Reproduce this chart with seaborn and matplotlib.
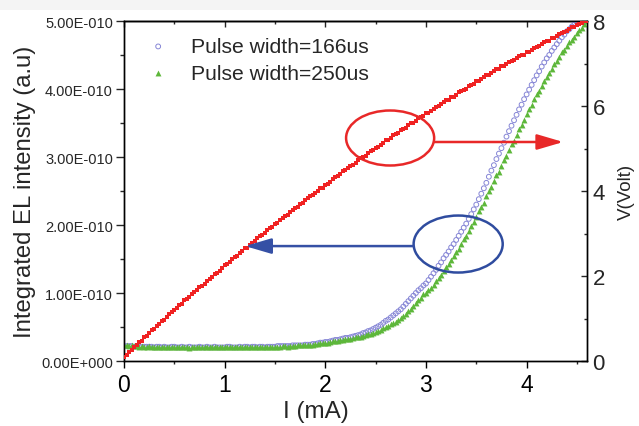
import numpy as np
import pandas as pd
import matplotlib
matplotlib.use("Agg")
import matplotlib.pyplot as plt
import seaborn as sns
from matplotlib.patches import Ellipse, Rectangle
from matplotlib.ticker import MultipleLocator

# ---------------- data ----------------
current_mA = [
    0.000, 0.025, 0.050, 0.075, 0.100, 0.125, 0.150, 0.175, 0.200, 0.225,
    0.250, 0.275, 0.300, 0.325, 0.350, 0.375, 0.400, 0.425, 0.450, 0.475,
    0.500, 0.525, 0.550, 0.575, 0.600, 0.625, 0.650, 0.675, 0.700, 0.725,
    0.750, 0.775, 0.800, 0.825, 0.850, 0.875, 0.900, 0.925, 0.950, 0.975,
    1.000, 1.025, 1.050, 1.075, 1.100, 1.125, 1.150, 1.175, 1.200, 1.225,
    1.250, 1.275, 1.300, 1.325, 1.350, 1.375, 1.400, 1.425, 1.450, 1.475,
    1.500, 1.525, 1.550, 1.575, 1.600, 1.625, 1.650, 1.675, 1.700, 1.725,
    1.750, 1.775, 1.800, 1.825, 1.850, 1.875, 1.900, 1.925, 1.950, 1.975,
    2.000, 2.025, 2.050, 2.075, 2.100, 2.125, 2.150, 2.175, 2.200, 2.225,
    2.250, 2.275, 2.300, 2.325, 2.350, 2.375, 2.400, 2.425, 2.450, 2.475,
    2.500, 2.525, 2.550, 2.575, 2.600, 2.625, 2.650, 2.675, 2.700, 2.725,
    2.750, 2.775, 2.800, 2.825, 2.850, 2.875, 2.900, 2.925, 2.950, 2.975,
    3.000, 3.025, 3.050, 3.075, 3.100, 3.125, 3.150, 3.175, 3.200, 3.225,
    3.250, 3.275, 3.300, 3.325, 3.350, 3.375, 3.400, 3.425, 3.450, 3.475,
    3.500, 3.525, 3.550, 3.575, 3.600, 3.625, 3.650, 3.675, 3.700, 3.725,
    3.750, 3.775, 3.800, 3.825, 3.850, 3.875, 3.900, 3.925, 3.950, 3.975,
    4.000, 4.025, 4.050, 4.075, 4.100, 4.125, 4.150, 4.175, 4.200, 4.225,
    4.250, 4.275, 4.300, 4.325, 4.350, 4.375, 4.400, 4.425, 4.450, 4.475,
    4.500, 4.525, 4.550, 4.575, 4.600]

voltage_V = [
    0.10, 0.14, 0.22, 0.26, 0.33, 0.37, 0.44, 0.48, 0.56, 0.59,
    0.65, 0.72, 0.75, 0.83, 0.86, 0.94, 0.97, 1.03, 1.10, 1.15,
    1.21, 1.24, 1.31, 1.35, 1.43, 1.45, 1.50, 1.58, 1.63, 1.66,
    1.73, 1.77, 1.82, 1.88, 1.94, 1.97, 2.05, 2.07, 2.12, 2.19,
    2.25, 2.28, 2.34, 2.40, 2.45, 2.48, 2.53, 2.59, 2.65, 2.67,
    2.74, 2.77, 2.83, 2.89, 2.94, 2.96, 3.02, 3.08, 3.13, 3.16,
    3.23, 3.25, 3.31, 3.37, 3.42, 3.44, 3.50, 3.56, 3.61, 3.63,
    3.70, 3.72, 3.78, 3.83, 3.88, 3.90, 3.95, 4.01, 4.06, 4.08,
    4.15, 4.17, 4.22, 4.28, 4.33, 4.35, 4.40, 4.46, 4.50, 4.53,
    4.59, 4.61, 4.66, 4.72, 4.77, 4.79, 4.83, 4.89, 4.94, 4.96,
    5.02, 5.04, 5.08, 5.14, 5.19, 5.20, 5.24, 5.31, 5.35, 5.37,
    5.43, 5.45, 5.49, 5.55, 5.59, 5.61, 5.65, 5.71, 5.75, 5.77,
    5.83, 5.84, 5.88, 5.94, 5.98, 6.00, 6.04, 6.09, 6.13, 6.15,
    6.21, 6.22, 6.26, 6.32, 6.36, 6.37, 6.41, 6.46, 6.50, 6.52,
    6.58, 6.59, 6.63, 6.68, 6.72, 6.73, 6.77, 6.82, 6.86, 6.87,
    6.93, 6.94, 6.98, 7.03, 7.07, 7.08, 7.12, 7.17, 7.20, 7.21,
    7.27, 7.28, 7.32, 7.37, 7.40, 7.41, 7.45, 7.50, 7.53, 7.54,
    7.60, 7.61, 7.64, 7.69, 7.72, 7.73, 7.77, 7.82, 7.85, 7.86,
    7.91, 7.92, 7.96, 7.99, 8.00]

# integrated EL intensity, in units of 1E-010 a.u.
el_166us = [
    0.22, 0.22, 0.22, 0.22, 0.21, 0.22, 0.21, 0.21, 0.21, 0.21,
    0.21, 0.21, 0.20, 0.21, 0.21, 0.20, 0.21, 0.20, 0.20, 0.21,
    0.21, 0.20, 0.20, 0.21, 0.20, 0.20, 0.21, 0.20, 0.20, 0.20,
    0.21, 0.20, 0.20, 0.21, 0.20, 0.20, 0.21, 0.20, 0.20, 0.20,
    0.20, 0.21, 0.21, 0.20, 0.20, 0.20, 0.21, 0.20, 0.21, 0.21,
    0.20, 0.21, 0.21, 0.20, 0.21, 0.21, 0.20, 0.21, 0.21, 0.21,
    0.21, 0.22, 0.22, 0.22, 0.22, 0.22, 0.22, 0.23, 0.23, 0.23,
    0.23, 0.23, 0.24, 0.24, 0.24, 0.25, 0.25, 0.26, 0.27, 0.27,
    0.28, 0.28, 0.29, 0.30, 0.31, 0.31, 0.32, 0.33, 0.34, 0.34,
    0.35, 0.36, 0.37, 0.38, 0.39, 0.41, 0.42, 0.44, 0.45, 0.47,
    0.49, 0.51, 0.53, 0.56, 0.59, 0.61, 0.64, 0.67, 0.70, 0.73,
    0.76, 0.80, 0.84, 0.88, 0.92, 0.96, 1.00, 1.04, 1.07, 1.11,
    1.14, 1.19, 1.24, 1.29, 1.34, 1.40, 1.45, 1.51, 1.56, 1.61,
    1.67, 1.72, 1.78, 1.84, 1.90, 1.96, 2.02, 2.09, 2.16, 2.23,
    2.30, 2.38, 2.46, 2.54, 2.62, 2.71, 2.80, 2.88, 2.97, 3.05,
    3.13, 3.21, 3.30, 3.38, 3.46, 3.54, 3.62, 3.70, 3.77, 3.85,
    3.92, 3.99, 4.06, 4.13, 4.20, 4.26, 4.33, 4.39, 4.45, 4.50,
    4.56, 4.61, 4.66, 4.71, 4.76, 4.80, 4.85, 4.88, 4.92, 4.95,
    4.98, 5.00, 5.02, 5.04, 5.06]

el_250us = [
    0.23, 0.23, 0.22, 0.23, 0.22, 0.22, 0.21, 0.22, 0.21, 0.21,
    0.22, 0.21, 0.21, 0.21, 0.20, 0.21, 0.20, 0.21, 0.21, 0.20,
    0.20, 0.21, 0.20, 0.20, 0.21, 0.20, 0.19, 0.20, 0.20, 0.21,
    0.20, 0.20, 0.21, 0.20, 0.20, 0.21, 0.20, 0.20, 0.20, 0.21,
    0.21, 0.20, 0.20, 0.21, 0.20, 0.20, 0.21, 0.20, 0.21, 0.20,
    0.21, 0.20, 0.20, 0.21, 0.21, 0.20, 0.21, 0.21, 0.20, 0.21,
    0.21, 0.21, 0.21, 0.22, 0.22, 0.21, 0.22, 0.22, 0.22, 0.23,
    0.23, 0.23, 0.23, 0.24, 0.24, 0.24, 0.25, 0.25, 0.26, 0.26,
    0.27, 0.27, 0.28, 0.29, 0.29, 0.30, 0.31, 0.31, 0.32, 0.33,
    0.33, 0.34, 0.35, 0.36, 0.36, 0.37, 0.38, 0.39, 0.40, 0.41,
    0.43, 0.44, 0.46, 0.48, 0.50, 0.52, 0.54, 0.56, 0.58, 0.61,
    0.63, 0.66, 0.69, 0.74, 0.77, 0.81, 0.85, 0.89, 0.93, 0.98,
    1.00, 1.05, 1.08, 1.12, 1.18, 1.22, 1.26, 1.32, 1.38, 1.42,
    1.49, 1.55, 1.60, 1.65, 1.72, 1.79, 1.84, 1.91, 1.99, 2.04,
    2.12, 2.21, 2.27, 2.33, 2.42, 2.50, 2.56, 2.64, 2.73, 2.78,
    2.87, 2.96, 3.02, 3.10, 3.19, 3.24, 3.33, 3.41, 3.47, 3.55,
    3.63, 3.71, 3.77, 3.85, 3.93, 3.97, 4.05, 4.12, 4.17, 4.24,
    4.30, 4.37, 4.41, 4.47, 4.54, 4.57, 4.63, 4.69, 4.72, 4.77,
    4.82, 4.87, 4.90, 4.95, 5.00]

series_labels = ["Pulse width=166us", "Pulse width=250us"]
left_tick_values = [0.0, 1e-10, 2e-10, 3e-10, 4e-10, 5e-10]
left_tick_labels = ["0.00E+000", "1.00E-010", "2.00E-010",
                    "3.00E-010", "4.00E-010", "5.00E-010"]
right_tick_values = [0, 2, 4, 6, 8]
x_tick_values = [0, 1, 2, 3, 4]

# ---------------- styling ----------------
sns.set_theme(style="ticks")
plt.rcParams['font.family'] = ['Liberation Sans', 'DejaVu Sans']
plt.rcParams['axes.linewidth'] = 1.0

W, H = 639, 427
fig = plt.figure(figsize=(W / 100, H / 100), dpi=100)
fig.patch.set_facecolor("white")
fig.patches.append(Rectangle((0, 1 - 11 / H), 1, 11 / H, transform=fig.transFigure,
                             facecolor="#f4f4f4", edgecolor="none", zorder=-5))

L, R, T, B = 124, 587, 22, 362
ax = fig.add_axes([L / W, 1 - B / H, (R - L) / W, (B - T) / H])
ax2 = ax.twinx()

df = pd.DataFrame({
    "I": current_mA,
    "V": voltage_V,
    "EL166": np.array(el_166us) * 1e-10,
    "EL250": np.array(el_250us) * 1e-10,
})

blue = "#8686d6"
green = "#5db73a"
red = "#f02222"

sns.scatterplot(data=df, x="I", y="EL166", ax=ax, marker="o", s=12,
                color=blue, facecolor="none", edgecolor=blue, linewidth=0.7,
                label=series_labels[0], zorder=3)
sns.scatterplot(data=df, x="I", y="EL250", ax=ax, marker="^", s=18,
                color=green, linewidth=0, label=series_labels[1], zorder=4)
sns.scatterplot(data=df, x="I", y="V", ax=ax2, marker="s", s=9,
                color=red, linewidth=0, zorder=3)

ax.set_xlim(0, 4.6)
ax.set_ylim(0, 5e-10)
ax2.set_ylim(0, 8)

# x axis
ax.set_xticks(x_tick_values)
ax.xaxis.set_minor_locator(MultipleLocator(0.5))
ax.tick_params(axis="x", which="major", direction="out", length=5, width=1,
               labelsize=16.5, pad=4, colors="black")
ax.tick_params(axis="x", which="minor", direction="out", length=2.5, width=1)
top = ax.secondary_xaxis("top")
top.set_xticks(x_tick_values)
top.xaxis.set_minor_locator(MultipleLocator(0.5))
top.tick_params(axis="x", which="major", direction="in", length=4, width=1, labeltop=False)
top.tick_params(axis="x", which="minor", direction="in", length=2.5, width=1)

# left y
ax.set_yticks(left_tick_values, labels=left_tick_labels)
ax.yaxis.set_minor_locator(MultipleLocator(0.5e-10))
ax.tick_params(axis="y", which="major", direction="out", length=6, width=1,
               labelsize=10.5, pad=2)
ax.tick_params(axis="y", which="minor", direction="out", length=3, width=1)

# right y
ax2.set_yticks(right_tick_values)
ax2.yaxis.set_minor_locator(MultipleLocator(1))
ax2.tick_params(axis="y", which="major", direction="in", length=4.5, width=1,
                labelsize=16, pad=4)
ax2.tick_params(axis="y", which="minor", direction="in", length=2.5, width=1)

for a in (ax, ax2):
    for sp in a.spines.values():
        sp.set_color("black")
        sp.set_linewidth(1.0)
top.spines["top"].set_linewidth(1.0)

ax.set_xlabel("I (mA)", fontsize=17.5)
ax.xaxis.set_label_coords(0.415, -0.115)
ax.set_ylabel("Integrated EL intensity (a.u)", fontsize=17.2)
ax.yaxis.set_label_coords(-0.19, 0.5)
ax2.set_ylabel("V(Volt)", fontsize=13.5)
ax2.yaxis.set_label_coords(1.066, 0.5)

# legend
leg = ax.legend(loc="upper left", bbox_to_anchor=(0.051, 0.953), frameon=False,
                fontsize=15.2, handlelength=1.0, handletextpad=1.05,
                labelspacing=0.36, borderpad=0, borderaxespad=0, markerscale=1.0)

# annotations: red ellipse + arrow to the right axis
red_ann = "#e82828"
ax2.add_patch(Ellipse((2.644, 5.247), 0.875, 1.294, fill=False, edgecolor=red_ann,
                      linewidth=1.8, zorder=6))
ax2.annotate("", xy=(4.364, 5.153), xytext=(3.08, 5.153),
             arrowprops=dict(arrowstyle="-|>,head_length=1.6,head_width=0.47",
                             mutation_scale=10, color=red_ann, lw=1.8,
                             shrinkA=0, shrinkB=0), zorder=6)

# blue ellipse + arrow to the left axis
blue_ann = "#2f4c9f"
ax2.add_patch(Ellipse((3.32, 2.752), 0.885, 1.341, fill=False, edgecolor=blue_ann,
                      linewidth=1.8, zorder=6))
ax2.annotate("", xy=(1.203, 2.704), xytext=(2.873, 2.704),
             arrowprops=dict(arrowstyle="-|>,head_length=1.6,head_width=0.47",
                             mutation_scale=10, color="#3550a5", lw=1.8,
                             shrinkA=0, shrinkB=0), zorder=6)

fig.savefig("out.png", dpi=100, facecolor=fig.get_facecolor())
